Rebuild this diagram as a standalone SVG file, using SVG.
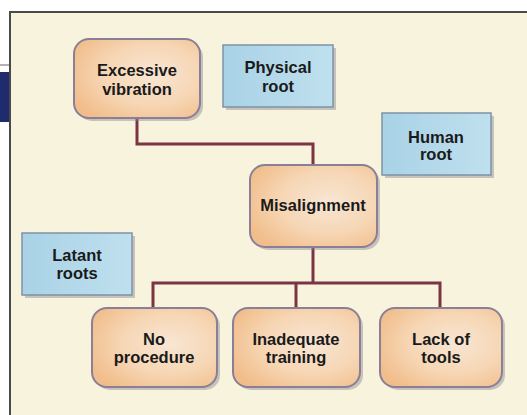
<svg xmlns="http://www.w3.org/2000/svg" width="527" height="415" viewBox="0 0 527 415">
<defs>
<radialGradient id="og" cx="0.62" cy="0.45" r="0.7">
<stop offset="0" stop-color="#f8e6d4"/>
<stop offset="0.55" stop-color="#f6d6b4"/>
<stop offset="1" stop-color="#f1bd8a"/>
</radialGradient>
<linearGradient id="bg" x1="0" y1="0" x2="1" y2="0">
<stop offset="0" stop-color="#a9d2e6"/>
<stop offset="1" stop-color="#bfe0ee"/>
</linearGradient>
<style>
.frame{fill:#f8f3dd;stroke:none}
.border{stroke:#4a4a4a;stroke-width:2;fill:none}
.cause{fill:url(#og);stroke:#8a7f96;stroke-width:2}
.root{fill:url(#bg);stroke:#7d93a6;stroke-width:1.5}
.shadow{fill:#8c8790;opacity:0.45}
.lbl{font-family:"Liberation Sans Narrow","Liberation Sans",Arial,sans-serif;font-weight:bold;font-size:16.5px;fill:#1a1a1a;text-anchor:middle}
.conn{stroke:#7a3444;stroke-width:3;fill:none}
</style>
</defs>
<rect width="527" height="415" fill="#ffffff"/>
<rect x="10" y="12" width="517" height="403" class="frame"/>
<line x1="0" y1="65" x2="10" y2="65" stroke="#9a9a9a" stroke-width="1.5"/>
<rect x="0" y="72" width="9" height="50" fill="#1e2b6e"/>
<path class="border" d="M10,415 V12 H527"/>

<g id="connectors">
<path class="conn" d="M137,118 V144 H313 V165"/>
<path class="conn" d="M313,247 V283"/>
<path class="conn" d="M153,308 V283 H440 V308"/>
<path class="conn" d="M296,283 V308"/>
</g>

<g id="excessive-vibration">
<rect class="shadow" x="77" y="42" width="126" height="79" rx="15"/>
<rect class="cause" x="74" y="39" width="126" height="79" rx="15"/>
<text class="lbl" x="137" y="76">Excessive</text>
<text class="lbl" x="137" y="95">vibration</text>
</g>

<g id="physical-root">
<rect class="shadow" x="226" y="48" width="110" height="62"/>
<rect class="root" x="223" y="45" width="110" height="62"/>
<text class="lbl" x="278" y="73">Physical</text>
<text class="lbl" x="278" y="92">root</text>
</g>

<g id="human-root">
<rect class="shadow" x="385" y="116" width="109" height="62"/>
<rect class="root" x="382" y="113" width="109" height="62"/>
<text class="lbl" x="436" y="143">Human</text>
<text class="lbl" x="436" y="160">root</text>
</g>

<g id="misalignment">
<rect class="shadow" x="253" y="168" width="127" height="82" rx="15"/>
<rect class="cause" x="250" y="165" width="127" height="82" rx="15"/>
<text class="lbl" x="313" y="211">Misalignment</text>
</g>

<g id="latant-roots">
<rect class="shadow" x="25" y="236" width="110" height="62"/>
<rect class="root" x="22" y="233" width="110" height="62"/>
<text class="lbl" x="77" y="261">Latant</text>
<text class="lbl" x="77" y="279">roots</text>
</g>

<g id="no-procedure">
<rect class="shadow" x="95" y="311" width="125" height="79" rx="15"/>
<rect class="cause" x="92" y="308" width="125" height="79" rx="15"/>
<text class="lbl" x="154" y="345">No</text>
<text class="lbl" x="154" y="363">procedure</text>
</g>

<g id="inadequate-training">
<rect class="shadow" x="236" y="311" width="127" height="79" rx="15"/>
<rect class="cause" x="233" y="308" width="127" height="79" rx="15"/>
<text class="lbl" x="296" y="345">Inadequate</text>
<text class="lbl" x="296" y="363">training</text>
</g>

<g id="lack-of-tools">
<rect class="shadow" x="383" y="311" width="122" height="79" rx="15"/>
<rect class="cause" x="380" y="308" width="122" height="79" rx="15"/>
<text class="lbl" x="441" y="345">Lack of</text>
<text class="lbl" x="441" y="363">tools</text>
</g>
</svg>
